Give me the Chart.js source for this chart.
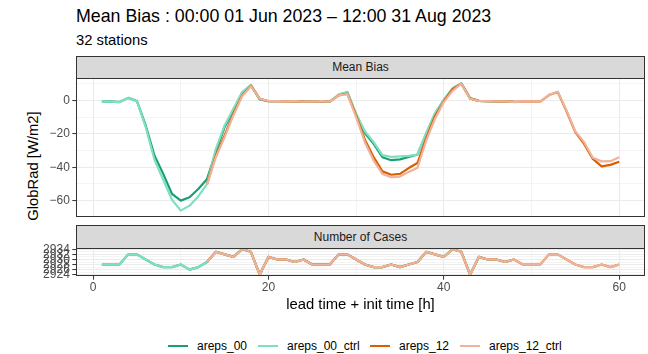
<!DOCTYPE html>
<html>
<head>
<meta charset="utf-8">
<script src="https://cdn.jsdelivr.net/npm/chart.js@4"></script>
<style>
  html, body { margin: 0; padding: 0; }
  body { width: 648px; height: 354px; background: #fff; position: relative; overflow: hidden;
         font-family: "Liberation Sans", Arial, Helvetica, sans-serif; }
  .txt { position: absolute; white-space: nowrap; }
  #title { left: 76px; top: 8px; font-size: 17.8px; line-height: 17.8px; color: #000; }
  #subtitle { left: 76px; top: 33px; font-size: 14.8px; line-height: 14.8px; color: #000; }
  .strip { position: absolute; left: 76px; width: 569px; box-sizing: border-box; background: #d9d9d9;
           border: 1px solid #333; text-align: center; font-size: 12px; color: #1a1a1a; }
  #strip1 { top: 56px; height: 23px; line-height: 21px; }
  #strip2 { top: 225px; height: 24px; line-height: 22px; }
  #ytitle { left: 33px; top: 166px; font-size: 14.8px; line-height: 14.8px; color: #000;
            transform: translate(-50%, -50%) rotate(-90deg); }
  canvas { position: absolute; left: 0; }
  #topPanel { top: 74px; }
  #casesPanel { top: 240px; }
  .key { position: absolute; height: 2.2px; width: 20px; }
  .lab { position: absolute; font-size: 12px; line-height: 12px; color: #000; white-space: nowrap; }
</style>
</head>
<body>
<div id="title" class="txt">Mean Bias : 00:00 01 Jun 2023 – 12:00 31 Aug 2023</div>
<div id="subtitle" class="txt">32 stations</div>
<div id="strip1" class="strip">Mean Bias</div>
<div id="strip2" class="strip">Number of Cases</div>
<div id="ytitle" class="txt">GlobRad [W/m2]</div>
<canvas id="topPanel" width="648" height="147"></canvas>
<canvas id="casesPanel" width="648" height="76"></canvas>
<div id="legend"></div>
<script>
// Lead time + init time (hours) for each model run
const hours00 = [1,2,3,4,5,6,7,8,9,10,11,12,13,14,15,16,17,18,19,20,21,22,23,24,
                 25,26,27,28,29,30,31,32,33,34,35,36,37,38,39,40,41,42,43,44,45,46,47,48];
const hours12 = [13,14,15,16,17,18,19,20,21,22,23,24,25,26,27,28,29,30,31,32,33,34,35,36,
                 37,38,39,40,41,42,43,44,45,46,47,48,49,50,51,52,53,54,55,56,57,58,59,60];

// Mean bias of global radiation [W/m2]
const biasAreps00 = [-0.8,-0.6,-1.0,1.5,-0.4,-15,-33,-44,-56,-60,-58,-53,-47,-31,-16,-6,4.5,9,0.6,-0.5,-0.5,-0.5,-0.6,-0.6,
                     -0.8,-0.5,-0.8,3.2,4.8,-8.5,-19.5,-26,-34,-35.8,-35.3,-33.8,-32.4,-20,-8,0.2,7,10.2,1.2,-0.3,-0.5,-0.6,-0.7,-0.9];
const biasAreps00Ctrl = [-0.8,-0.7,-1.0,1.4,-0.5,-16,-35.5,-47.5,-59.5,-66,-63,-57.5,-50,-29,-15,-5,5,9.3,0.8,-0.4,-0.5,-0.5,-0.6,-0.6,
                         -0.8,-0.5,-0.8,3.5,5.2,-8,-18.5,-25,-32.8,-33.8,-33.5,-33.2,-32.4,-19.5,-7.5,0.5,7.3,10.3,1.3,-0.3,-0.5,-0.6,-0.7,-0.9];
const biasAreps12 = [-50,-33,-21,-8,3,8.8,1,-0.5,-0.5,-0.6,-0.5,-0.7,-0.8,-0.5,-0.8,3,4,-9,-23.5,-34,-42.5,-44.5,-44,-40.5,
                     -37.5,-22.5,-9.5,-0.5,6.7,10,1.2,-0.3,-0.5,-0.6,-0.6,-0.9,-0.7,-0.7,-0.8,3.2,5,-6.5,-19,-26,-35,-39.5,-38.6,-36.7];
const biasAreps12Ctrl = [-50.5,-34,-22,-9,2.5,8.5,1,-0.4,-0.5,-0.6,-0.5,-0.8,-0.8,-0.5,-0.8,3,3.8,-10,-25,-36,-44,-46,-45.6,-42.8,
                         -40.3,-24,-11,-1,5.7,10,1,-0.3,-0.5,-0.6,-0.6,-1,-0.7,-0.7,-0.7,3.3,5.2,-6,-18.5,-25,-34.3,-36.5,-36.4,-34];

// Number of cases per lead time
const casesAreps00 = [2928,2928,2928,2932,2932,2930,2928,2927,2927,2928,2926,2927,2929,2933,2932,2931,2934,2933,2924,2931,2930,2930,2929,2930,
                      2928,2928,2928,2932,2932,2930,2928,2927,2927,2928,2927,2928,2929,2933,2932,2931,2934,2933,2924,2931,2930,2930,2929,2930];
const casesAreps12 = [2929,2933,2932,2931,2934,2933,2924,2931,2930,2930,2929,2930,2928,2928,2928,2932,2932,2930,2928,2927,2927,2928,2927,2928,
                      2929,2933,2932,2931,2934,2933,2924,2931,2930,2930,2929,2930,2928,2928,2928,2932,2932,2930,2928,2927,2927,2928,2927,2928];

const seriesNames  = ['areps_00', 'areps_00_ctrl', 'areps_12', 'areps_12_ctrl'];
const seriesColors = ['#1b9e77', '#7fe0c1', '#d95f02', '#efb39c'];

// Axis breaks
const xBreaks = [0, 10, 20, 30, 40, 50, 60];
const xLabelled = [0, 20, 40, 60];
const biasBreaks = [10, 0, -10, -20, -30, -40, -50, -60];
const biasLabelled = [0, -20, -40, -60];
const casesBreaks = [2924, 2925, 2926, 2927, 2928, 2929, 2930, 2931, 2932, 2933, 2934];
const casesLabelled = [2924, 2926, 2928, 2930, 2932, 2934];

const GRID = '#ebebeb';
const INK = '#333333';
const AXIS_TEXT = '#4d4d4d';
const FONT = '"Liberation Sans", Arial, Helvetica, sans-serif';

const pts = (xs, ys) => xs.map((x, i) => ({ x, y: ys[i] }));
const fmt = v => (v < 0 ? '\u2212' + Math.abs(v) : String(v));

function line(idx, xs, ys) {
  return {
    label: seriesNames[idx],
    data: pts(xs, ys),
    borderColor: seriesColors[idx],
    backgroundColor: seriesColors[idx],
    borderWidth: 2.2,
    borderJoinStyle: 'round',
    borderCapStyle: 'butt',
    pointRadius: 0,
    tension: 0,
    fill: false,
    order: 4 - idx
  };
}

// Framed panel, ggplot-style
const panelFrame = {
  id: 'panelFrame',
  afterDraw(chart) {
    const { ctx, chartArea: a } = chart;
    ctx.save();
    ctx.strokeStyle = INK;
    ctx.lineWidth = 1;
    ctx.strokeRect(a.left + 0.5, a.top + 0.5, a.right - a.left - 1, a.bottom - a.top - 1);
    ctx.restore();
  }
};

// Scale edges stay where the layout puts them (no room reserved for overhanging labels)
function noOverhang(s) {
  s.paddingTop = 0; s.paddingBottom = 0; s.paddingLeft = 0; s.paddingRight = 0;
}

function xScale(showAxis) {
  return {
    type: 'linear',
    min: -1.95,
    max: 62.95,
    afterBuildTicks: s => { s.ticks = xBreaks.map(v => ({ value: v })); },
    afterFit: s => { s.height = showAxis ? 40 : 0; noOverhang(s); },
    border: { display: false },
    grid: {
      color: GRID,
      lineWidth: c => (xLabelled.includes(c.tick.value) ? 1.1 : 0.55),
      drawTicks: showAxis,
      tickLength: 3.7,
      tickColor: c => (xLabelled.includes(c.tick.value) ? INK : 'rgba(0,0,0,0)'),
      tickWidth: 1
    },
    ticks: {
      display: showAxis,
      autoSkip: false,
      maxRotation: 0,
      padding: 1,
      color: AXIS_TEXT,
      font: { family: FONT, size: 12 },
      callback: v => (xLabelled.includes(v) ? String(v) : '')
    },
    title: {
      display: showAxis,
      text: 'lead time + init time [h]',
      color: '#000',
      font: { family: FONT, size: 14.8 },
      padding: { top: 0, bottom: 2.5 }
    }
  };
}

function yScale(min, max, breaks, labelled) {
  return {
    type: 'linear',
    min, max,
    afterBuildTicks: s => { s.ticks = breaks.map(v => ({ value: v })); },
    afterFit: s => { s.width = 76; noOverhang(s); },
    border: { display: false },
    grid: {
      color: GRID,
      lineWidth: c => (labelled.includes(c.tick.value) ? 1.1 : 0.55),
      drawTicks: true,
      tickLength: 3.7,
      tickColor: c => (labelled.includes(c.tick.value) ? INK : 'rgba(0,0,0,0)'),
      tickWidth: 1
    },
    ticks: {
      autoSkip: false,
      padding: 2.5,
      color: AXIS_TEXT,
      font: { family: FONT, size: 12 },
      callback: v => (labelled.includes(v) ? fmt(v) : '')
    }
  };
}

const common = {
  responsive: false,
  animation: false,
  events: [],
  plugins: { legend: { display: false }, tooltip: { enabled: false } }
};

new Chart(document.getElementById('topPanel'), {
  type: 'line',
  data: {
    datasets: [
      line(0, hours00, biasAreps00),
      line(1, hours00, biasAreps00Ctrl),
      line(2, hours12, biasAreps12),
      line(3, hours12, biasAreps12Ctrl)
    ]
  },
  options: Object.assign({}, common, {
    layout: { padding: { top: 4, bottom: 4, left: 0, right: 3 } },
    scales: { x: xScale(false), y: yScale(-69.8, 13.4, biasBreaks, biasLabelled) }
  }),
  plugins: [panelFrame]
});

new Chart(document.getElementById('casesPanel'), {
  type: 'line',
  data: {
    datasets: [
      line(0, hours00, casesAreps00),
      line(1, hours00, casesAreps00),
      line(2, hours12, casesAreps12),
      line(3, hours12, casesAreps12)
    ]
  },
  options: Object.assign({}, common, {
    layout: { padding: { top: 8, bottom: 0, left: 0, right: 3 } },
    scales: { x: xScale(true), y: yScale(2923.5, 2934.5, casesBreaks, casesLabelled) }
  }),
  plugins: [panelFrame]
});

// Legend below the panels
const legend = document.getElementById('legend');
const keyLeft = [168, 258, 370, 460];
seriesNames.forEach((name, i) => {
  const k = document.createElement('div');
  k.className = 'key';
  k.style.left = keyLeft[i] + 'px';
  k.style.top = '345px';
  k.style.background = seriesColors[i];
  legend.appendChild(k);
  const t = document.createElement('div');
  t.className = 'lab';
  t.style.left = (keyLeft[i] + 29) + 'px';
  t.style.top = '340px';
  t.textContent = name;
  legend.appendChild(t);
});
</script>
</body>
</html>
